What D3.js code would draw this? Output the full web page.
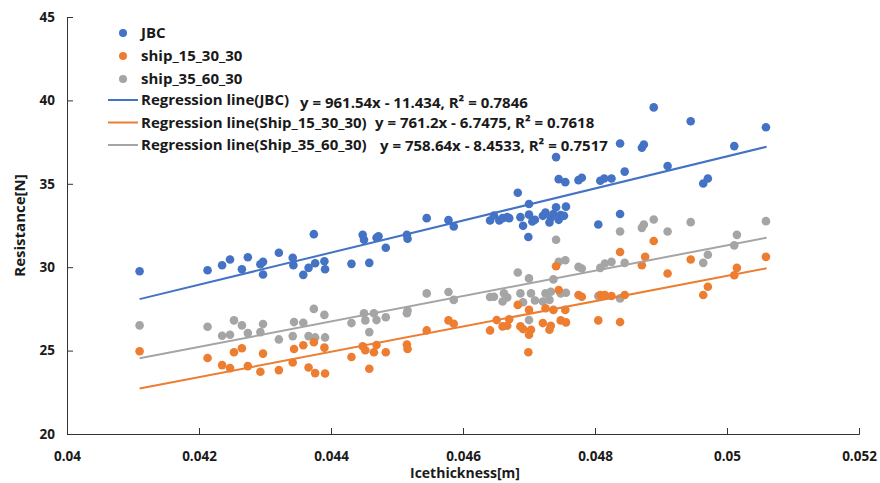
<!DOCTYPE html>
<html>
<head>
<meta charset="utf-8">
<script src="https://cdn.jsdelivr.net/npm/d3@7"></script>
<style>
  body { margin: 0; background: #fff; }
  svg text { font-family: "Open Sans", "Liberation Sans", sans-serif; font-weight: bold; fill: #1a1a1a; }
</style>
</head>
<body>
<svg id="chart" width="880" height="483"></svg>
<script>
// ice thickness values [m] and resistance [N]
var jbcX = [0.0411, 0.04213, 0.04235, 0.04247, 0.04265, 0.04274, 0.04293, 0.04297, 0.04297, 0.04321,
  0.04342, 0.04343, 0.04358, 0.04366, 0.04374, 0.04376, 0.0439, 0.04391, 0.04431, 0.04458,
  0.04448, 0.0445, 0.04469, 0.04472, 0.04483, 0.04515, 0.04516, 0.04545, 0.04578, 0.04586,
  0.04641, 0.04647, 0.04655, 0.0466, 0.04667, 0.0467, 0.04683, 0.04687, 0.04691, 0.047,
  0.047, 0.04699, 0.04705, 0.04709, 0.04721, 0.04725, 0.04731, 0.04733, 0.04737, 0.04741,
  0.04745, 0.04748, 0.04753, 0.04756, 0.04741, 0.04745, 0.04755, 0.04775, 0.0478, 0.04805,
  0.04808, 0.04814, 0.04825, 0.04838, 0.04838, 0.04845, 0.04871, 0.04874, 0.04889, 0.0491,
  0.04945, 0.04964, 0.04971, 0.05011, 0.05059];
var jbcY = [29.76, 29.82, 30.12, 30.46, 29.88, 30.6, 30.18, 30.32, 29.56, 30.87,
  30.56, 30.12, 29.54, 29.96, 31.98, 30.24, 30.36, 29.88, 30.2, 30.26,
  31.94, 31.65, 31.77, 31.85, 31.17, 31.94, 31.71, 32.94, 32.82, 32.44,
  32.8, 33.1, 32.8, 32.94, 33.0, 32.94, 34.46, 33.0, 32.48, 33.79,
  33.15, 31.81, 32.74, 32.84, 33.08, 33.27, 32.68, 32.96, 33.19, 33.59,
  32.84, 33.12, 33.08, 33.63, 36.6, 35.28, 35.1, 35.22, 35.36, 32.56,
  35.18, 35.32, 35.32, 37.42, 33.19, 35.73, 37.16, 37.36, 39.58, 36.07,
  38.75, 35.02, 35.32, 37.26, 38.39];

var ship15X = [0.0411, 0.04213, 0.04235, 0.04247, 0.04253, 0.04265, 0.04274, 0.04293, 0.04297, 0.04321,
  0.04342, 0.04344, 0.04358, 0.04366, 0.04374, 0.04376, 0.0439, 0.04391, 0.04431, 0.04448,
  0.04452, 0.04458, 0.04465, 0.04469, 0.04483, 0.04515, 0.04516, 0.04545, 0.04578, 0.04586,
  0.04641, 0.04651, 0.0466, 0.04667, 0.0467, 0.04683, 0.04687, 0.04691, 0.04699, 0.047,
  0.047, 0.04703, 0.04721, 0.04725, 0.04731, 0.04733, 0.04737, 0.04741, 0.04745, 0.04748,
  0.04756, 0.04755, 0.04775, 0.0478, 0.04805, 0.04808, 0.04815, 0.04825, 0.04838, 0.04838,
  0.04845, 0.04871, 0.04876, 0.04889, 0.0491, 0.04945, 0.04964, 0.04971, 0.05011, 0.05015,
  0.05059];
var ship15Y = [24.96, 24.56, 24.13, 23.95, 24.9, 25.14, 24.07, 23.73, 24.82, 23.83,
  24.29, 25.1, 25.32, 23.99, 25.5, 23.65, 25.18, 23.63, 24.62, 25.26,
  25.02, 23.91, 24.9, 25.34, 24.9, 25.36, 25.1, 26.21, 26.81, 26.61,
  26.21, 26.83, 26.45, 26.49, 26.88, 27.74, 26.45, 26.29, 24.9, 27.44,
  25.95, 26.25, 26.65, 27.54, 26.25, 26.49, 27.44, 30.06, 28.63, 26.81,
  26.69, 27.44, 28.33, 28.23, 26.81, 28.33, 28.33, 28.27, 30.91, 26.71,
  28.33, 30.12, 30.62, 31.57, 29.62, 30.46, 28.33, 28.83, 29.52, 29.96,
  30.62];

var ship35X = [0.0411, 0.04213, 0.04235, 0.04247, 0.04253, 0.04265, 0.04274, 0.04293, 0.04297, 0.04321,
  0.04342, 0.04344, 0.04358, 0.04366, 0.04374, 0.04376, 0.0439, 0.04391, 0.04431, 0.0445,
  0.04452, 0.04458, 0.04465, 0.04469, 0.04483, 0.04515, 0.04516, 0.04545, 0.04578, 0.04586,
  0.04641, 0.04647, 0.0466, 0.04662, 0.04667, 0.04683, 0.04687, 0.04691, 0.047, 0.047,
  0.04703, 0.04709, 0.04721, 0.04725, 0.04731, 0.04733, 0.04737, 0.04741, 0.04745, 0.04748,
  0.04756, 0.04755, 0.04775, 0.0478, 0.04805, 0.04808, 0.04815, 0.04825, 0.04838, 0.04838,
  0.04845, 0.04871, 0.04874, 0.04889, 0.0491, 0.04945, 0.04964, 0.04971, 0.05011, 0.05015,
  0.05059];
var ship35Y = [26.51, 26.43, 25.89, 25.95, 26.81, 26.51, 26.05, 26.11, 26.59, 25.67,
  25.87, 26.71, 26.67, 25.87, 27.5, 25.79, 27.14, 25.79, 26.65, 27.24,
  26.81, 26.11, 27.24, 26.83, 27.0, 27.24, 27.4, 28.43, 28.51, 28.04,
  28.21, 28.23, 27.94, 28.43, 28.19, 29.68, 28.43, 27.9, 29.33, 26.83,
  28.43, 28.0, 27.94, 28.43, 28.04, 28.53, 29.27, 31.65, 30.32, 28.43,
  28.47, 30.42, 30.02, 29.92, 28.27, 29.96, 30.22, 30.32, 32.14, 28.13,
  30.26, 32.36, 32.56, 32.86, 32.14, 32.7, 30.26, 30.75, 31.31, 31.94,
  32.76];

var seriesNames = ['JBC', 'ship_15_30_30', 'ship_35_60_30'];
var seriesColors = ['#4472C4', '#ED7D31', '#A5A5A5'];

// regression lines as drawn (slope, intercept), span of the fit
var lineNames = ['Regression line(JBC)', 'Regression line(Ship_15_30_30)', 'Regression line(Ship_35_60_30)'];
var lineSlopes = [961.54, 758.64, 761.2];
var lineIntercepts = [-11.434, -8.4533, -6.7475];
var lineSpan = [0.0411, 0.0506];
var equationTexts = ['y = 961.54x - 11.434,  R\u00B2 = 0.7846',
  'y = 761.2x - 6.7475,  R\u00B2 = 0.7618',
  'y = 758.64x - 8.4533,  R\u00B2 = 0.7517'];

var xTicks = [0.04, 0.042, 0.044, 0.046, 0.048, 0.05, 0.052];
var yTicks = [20, 25, 30, 35, 40, 45];

(function() {
  var svg = d3.select('#chart');
  var mLeft = 67, mRight = 859, mTop = 17, mBottom = 434;

  var x = d3.scaleLinear().domain([0.04, 0.052]).range([mLeft, mRight]);
  var y = d3.scaleLinear().domain([20, 45]).range([mBottom, mTop]);

  /** axes */
  var xAxis = svg.append('g').attr('transform', 'translate(0,' + mBottom + ')')
    .call(d3.axisBottom(x).tickValues(xTicks).tickSize(-6).tickFormat(d3.format('')));
  var yAxis = svg.append('g').attr('transform', 'translate(' + mLeft + ',0)')
    .call(d3.axisLeft(y).tickValues(yTicks).tickSize(-6));
  [xAxis, yAxis].forEach(function(a) {
    a.select('.domain').attr('stroke', '#333');
    a.selectAll('.tick line').attr('stroke', '#333');
    a.selectAll('.tick text').style('font-size', '13.5px').style('font-family', '"Open Sans", sans-serif')
      .style('font-weight', 'bold').attr('fill', '#1a1a1a');
  });
  xAxis.selectAll('.tick text').attr('y', 17);
  yAxis.selectAll('.tick text').attr('x', -12);

  svg.append('text').attr('x', (mLeft + mRight) / 2 + 2).attr('y', 478).attr('text-anchor', 'middle')
    .style('font-size', '14px').text('Icethickness[m]');
  svg.append('text').attr('transform', 'translate(25,' + ((mTop + mBottom) / 2) + ') rotate(-90)')
    .attr('text-anchor', 'middle').style('font-size', '15px').text('Resistance[N]');

  /** points */
  var allX = [jbcX, ship15X, ship35X];
  var allY = [jbcY, ship15Y, ship35Y];
  [2, 1, 0].forEach(function(i) {
    var pts = allX[i].map(function(v, k) { return [v, allY[i][k]]; });
    svg.append('g').selectAll('circle').data(pts).enter().append('circle')
      .attr('cx', function(d) { return x(d[0]); })
      .attr('cy', function(d) { return y(d[1]); })
      .attr('r', 4.3)
      .attr('fill', seriesColors[i]);
  });

  /** regression lines */
  lineSlopes.forEach(function(s, i) {
    svg.append('line')
      .attr('x1', x(lineSpan[0])).attr('y1', y(s * lineSpan[0] + lineIntercepts[i]))
      .attr('x2', x(lineSpan[1])).attr('y2', y(s * lineSpan[1] + lineIntercepts[i]))
      .attr('stroke', seriesColors[i]).attr('stroke-width', 2);
  });

  /** legend */
  var legend = svg.append('g').attr('transform', 'translate(108,0)');
  seriesNames.forEach(function(name, i) {
    var ly = 33 + i * 23;
    legend.append('circle').attr('cx', 15).attr('cy', ly).attr('r', 4).attr('fill', seriesColors[i]);
    legend.append('text').attr('x', 33).attr('y', ly + 5).style('font-size', '15px').text(name);
  });
  lineNames.forEach(function(name, i) {
    var ly = 100 + i * 22.5;
    legend.append('line').attr('x1', 0).attr('x2', 30).attr('y1', ly).attr('y2', ly)
      .attr('stroke', seriesColors[i]).attr('stroke-width', 2);
    legend.append('text').attr('x', 33).attr('y', ly + 5).style('font-size', '15px').text(name);
  });

  var eqPos = [[300, 108], [375, 128], [380, 151]];
  equationTexts.forEach(function(t, i) {
    svg.append('text').attr('x', eqPos[i][0]).attr('y', eqPos[i][1]).style('font-size', '15px').text(t);
  });
})();
</script>
</body>
</html>
